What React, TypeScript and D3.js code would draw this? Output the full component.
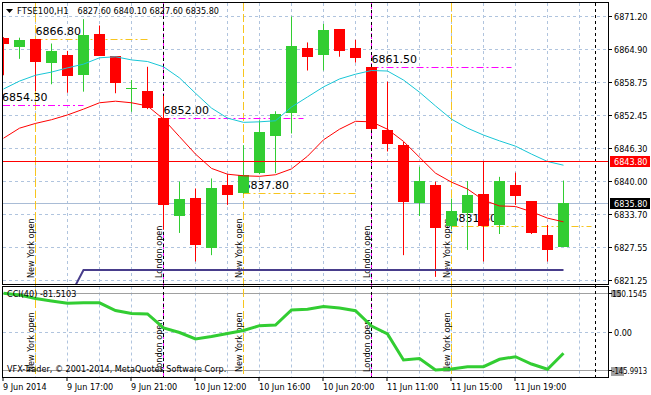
import React from "react";
import * as d3 from "d3";

const W = 651;
const H = 395;

// FTSE100 H1 bars, 9-11 Jun 2014
const opens = [6867.1, 6865.4, 6866.8, 6862.3, 6863.8, 6860.1, 6867.8, 6863.6, 6857.5, 6857.1, 6852.0, 6833.4, 6836.8, 6827.4, 6839.3, 6837.8, 6841.5, 6848.6, 6852.8, 6865.1, 6863.8, 6868.7, 6865.1, 6861.5, 6849.7, 6846.8, 6835.9, 6839.3, 6831.6, 6834.0, 6837.6, 6831.7, 6839.3, 6836.2, 6829.8, 6827.6];
const highs = [6867.2, 6867.1, 6866.8, 6866.0, 6864.6, 6870.6, 6869.4, 6863.6, 6859.1, 6861.6, 6856.1, 6839.9, 6838.6, 6840.5, 6841.3, 6846.8, 6851.5, 6853.2, 6871.1, 6866.2, 6869.7, 6868.7, 6866.7, 6861.6, 6858.8, 6847.4, 6842.7, 6839.9, 6836.7, 6840.0, 6843.7, 6840.8, 6841.6, 6836.2, 6831.7, 6840.1];
const lows = [6860.0, 6863.1, 6857.0, 6858.3, 6856.7, 6856.9, 6863.7, 6856.6, 6853.1, 6853.6, 6830.8, 6830.2, 6824.8, 6826.0, 6835.5, 6837.6, 6841.3, 6841.5, 6849.0, 6860.9, 6860.9, 6863.5, 6862.4, 6849.6, 6845.6, 6826.0, 6833.4, 6821.9, 6830.9, 6827.0, 6824.8, 6830.0, 6835.5, 6830.0, 6824.8, 6827.6];
const closes = [6865.9, 6866.7, 6862.6, 6864.6, 6859.9, 6867.6, 6863.7, 6858.5, 6857.6, 6853.9, 6835.5, 6836.6, 6827.9, 6838.7, 6837.4, 6841.2, 6849.3, 6852.7, 6865.5, 6863.5, 6868.6, 6864.6, 6863.2, 6849.9, 6847.0, 6836.1, 6840.0, 6831.1, 6834.4, 6837.4, 6831.5, 6840.0, 6837.2, 6830.2, 6827.0, 6835.8];

// moving averages
const maCyan = [6857.4, 6858.9, 6860.0, 6860.6, 6861.4, 6862.1, 6863.3, 6863.5, 6862.9, 6862.6, 6861.6, 6859.5, 6856.6, 6853.8, 6851.9, 6851.1, 6851.2, 6851.4, 6854.0, 6855.9, 6857.8, 6859.3, 6860.2, 6860.9, 6860.8, 6859.1, 6856.8, 6854.2, 6851.7, 6850.0, 6848.7, 6847.6, 6846.6, 6845.1, 6843.7, 6843.0];
const maRed = [6848.1, 6850.0, 6850.9, 6851.6, 6852.5, 6853.6, 6854.8, 6855.1, 6854.8, 6854.2, 6851.7, 6848.4, 6845.1, 6842.4, 6841.3, 6841.0, 6840.9, 6841.2, 6842.3, 6844.7, 6847.8, 6849.8, 6851.3, 6851.2, 6849.8, 6847.5, 6844.5, 6841.5, 6839.8, 6838.5, 6836.4, 6835.3, 6835.2, 6834.2, 6833.0, 6832.3];

// support line (bar index, price)
const supportIdx = [4, 5, 35];
const supportVal = [6817.4, 6823.2, 6823.2];

// CCI(40)
const cci = [150.15, 143.6, 130.1, 120.5, 111.6, 113.9, 113.5, 83.8, 72.2, 70.3, 16.2, -1.2, -26.3, -16.6, -5.0, 6.6, 25.1, 27.8, 85.7, 88.4, 99.2, 93.4, 83.0, 23.9, -6.9, -107.3, -101.5, -145.99, -142.1, -133.2, -133.0, -104.6, -94.6, -122.8, -143.2, -81.51];

const priceTicks = [6871.2, 6864.9, 6858.75, 6852.45, 6846.3, 6840.0, 6833.7, 6827.55, 6821.25];
const cciTicks = [150.1545, 0, -145.9913];
const cciTickLabels = ["150.1545", "0.00", "-145.9913"];

const timeIdx = [0, 4, 8, 12, 16, 20, 24, 28, 32];
const timeLabels = ["9 Jun 2014", "9 Jun 17:00", "9 Jun 21:00", "10 Jun 12:00", "10 Jun 16:00", "10 Jun 20:00", "11 Jun 11:00", "11 Jun 15:00", "11 Jun 19:00"];

const nyIdx = [2, 15, 28];
const londonIdx = [10, 23];
const separatorIdx = [10, 23, 37];

// session open levels
const levelValues = [6854.3, 6866.8, 6852.0, 6837.8, 6861.5, 6831.6];
const levelKind = ["london", "ny", "london", "ny", "london", "ny"];
const levelFrom = [-1, 2, 10, 15, 23, 28];
const levelTo = [5, 9, 18.75, 22, 31.75, 36.75];

const ask = 6843.8;
const bid = 6835.8;

const header = ["6827.60", "6840.10", "6827.60", "6835.80"];

const F = "'DejaVu Sans Condensed','Liberation Sans Narrow','DejaVu Sans',sans-serif";
const F2 = "'DejaVu Sans',sans-serif";
const GRID = "#b0c4de";
const GOLD = "#f7c51e";
const MAG = "#ff00ff";
const BULL = "#32cd32";
const BEAR = "#ff0000";

const LEFT = 2.5;
const RIGHT = 608.5;
const MAIN_TOP = 2.5;
const MAIN_BOT = 284.5;
const CCI_TOP = 286.5;
const CCI_BOT = 377.5;

export default function App() {
  const x = d3.scaleLinear().domain([0, 37]).range([3.5, 595.5]);
  const y = d3.scaleLinear().domain([6821.25, 6871.2]).range([280.3, 16]);
  const yc = d3.scaleLinear().domain([-145.9913, 150.1545]).range([370, 293.3]);
  const crisp = (v: number) => Math.round(v) + 0.5;

  const line = d3.line<number>().x((_, i) => x(i)).y((d) => y(d));
  const cciLine = d3.line<number>().x((_, i) => x(i)).y((d) => yc(d));
  const supLine = d3
    .line<number>()
    .x((_, i) => x(supportIdx[i]))
    .y((d) => y(d));

  const gridIdx = d3.range(2, 37, 2);

  return (
    <svg
      width={W}
      height={H}
      style={{ position: "fixed", left: 0, top: 0, background: "#fff" }}
      fontFamily={F}
    >
      <defs>
        <clipPath id="mainClip">
          <rect x={3} y={3} width={RIGHT - 3} height={MAIN_BOT - 3} />
        </clipPath>
        <clipPath id="cciClip">
          <rect x={3} y={CCI_TOP + 0.5} width={RIGHT - 3} height={CCI_BOT - CCI_TOP - 1} />
        </clipPath>
      </defs>
      <rect width={W} height={H} fill="#fff" />

      {/* grid main */}
      <g stroke={GRID} strokeDasharray="3 3" fill="none">
        {priceTicks.map((p) => (
          <line key={p} x1={3} x2={RIGHT} y1={crisp(y(p))} y2={crisp(y(p))} />
        ))}
        {gridIdx.map((i) => (
          <line key={"m" + i} x1={x(i)} x2={x(i)} y1={3} y2={MAIN_BOT} />
        ))}
        {gridIdx.map((i) => (
          <line key={"c" + i} x1={x(i)} x2={x(i)} y1={CCI_TOP} y2={CCI_BOT} />
        ))}
        <line x1={3} x2={RIGHT} y1={crisp(yc(0))} y2={crisp(yc(0))} />
      </g>
      {/* CCI max/min levels */}
      <g stroke="#a0a0a0">
        <line x1={3} x2={RIGHT} y1={crisp(yc(cciTicks[0]))} y2={crisp(yc(cciTicks[0]))} />
        <line x1={3} x2={RIGHT} y1={crisp(yc(cciTicks[2]))} y2={crisp(yc(cciTicks[2]))} />
      </g>

      {/* bid line */}
      <line x1={3} x2={RIGHT} y1={crisp(y(bid))} y2={crisp(y(bid))} stroke="#a9bcd6" />

      {/* session verticals */}
      {nyIdx.map((i) => (
        <line key={"ny" + i} x1={x(i)} x2={x(i)} y1={3} y2={CCI_BOT} stroke={GOLD} strokeDasharray="8 3" />
      ))}
      {londonIdx.map((i) => (
        <line key={"ld" + i} x1={x(i)} x2={x(i)} y1={3} y2={CCI_BOT} stroke={MAG} strokeDasharray="6 4" />
      ))}
      {separatorIdx.map((i) => (
        <line key={"sp" + i} x1={x(i)} x2={x(i)} y1={3} y2={CCI_BOT} stroke="#000" strokeDasharray="3 3" strokeDashoffset={i === 37 ? 0 : 5} />
      ))}

      {/* session levels */}
      <g clipPath="url(#mainClip)">
        {levelValues.map((v, k) => {
          const x1 = Math.max(x(levelFrom[k]), 3);
          const yy = crisp(y(v));
          return (
            <g key={"lv" + k}>
              <line
                x1={x1}
                x2={x(levelTo[k])}
                y1={yy}
                y2={yy}
                stroke={levelKind[k] === "ny" ? GOLD : MAG}
                strokeDasharray="7 3 2 3"
              />
              <text x={Math.max(x(levelFrom[k]), 2)} y={yy - 5} fontFamily={F2} fontSize={11} fill="#000">
                {v.toFixed(2)}
              </text>
            </g>
          );
        })}
      </g>

      {/* session labels */}
      {nyIdx.map((i) => (
        <g key={"nyt" + i} fontSize={9}>
          <text transform={`translate(${x(i) - 2},278) rotate(-90)`}>New York open</text>
          <text transform={`translate(${x(i) - 2},372) rotate(-90)`}>New York open</text>
        </g>
      ))}
      {londonIdx.map((i) => (
        <g key={"ldt" + i} fontSize={9}>
          <text transform={`translate(${x(i) - 2},278) rotate(-90)`}>London open</text>
          <text transform={`translate(${x(i) - 2},372) rotate(-90)`}>London open</text>
        </g>
      ))}

      {/* candles */}
      <g clipPath="url(#mainClip)">
        {opens.map((o, i) => {
          const c = closes[i];
          const bull = c >= o;
          const col = bull ? BULL : BEAR;
          const top = Math.round(y(Math.max(o, c)));
          const bot = Math.round(y(Math.min(o, c)));
          return (
            <g key={"cd" + i}>
              <line x1={x(i)} x2={x(i)} y1={y(highs[i])} y2={y(lows[i])} stroke={col} />
              <rect x={x(i) - 5.5} y={top} width={11} height={Math.max(1, bot - top)} fill={col} />
            </g>
          );
        })}
        <path d={line(maCyan) || ""} fill="none" stroke="#19c6d6" />
        <path d={line(maRed) || ""} fill="none" stroke="#ff0000" />
        <path d={supLine(supportVal) || ""} fill="none" stroke="#483d8b" strokeWidth={2} />
      </g>

      {/* ask line */}
      <line x1={3} x2={RIGHT} y1={crisp(y(ask))} y2={crisp(y(ask))} stroke="#ff0000" />

      {/* CCI */}
      <g clipPath="url(#cciClip)">
        <path d={cciLine(cci) || ""} fill="none" stroke={BULL} strokeWidth={3} />
      </g>
      <text x={7} y={297} fontSize={9}>CCI(40) -81.5103</text>
      <text x={7} y={372} fontSize={9}>VFX-Trader, © 2001-2014, MetaQuotes Software Corp.</text>

      {/* frames */}
      <g fill="none" stroke="#000">
        <rect x={LEFT} y={MAIN_TOP} width={RIGHT - LEFT} height={MAIN_BOT - MAIN_TOP} />
        <rect x={LEFT} y={CCI_TOP} width={RIGHT - LEFT} height={CCI_BOT - CCI_TOP} />
      </g>

      {/* header */}
      <path d="M6,9 L13,9 L9.5,13 Z" fill="#000" />
      <text x={17} y={14} fontSize={9.5}>FTSE100,H1</text>
      {header.map((h, k) => (
        <text key={"h" + k} x={77.5 + k * 36} y={14} fontSize={9}>
          {h}
        </text>
      ))}

      {/* price axis */}
      {priceTicks.map((p) => (
        <g key={"pt" + p}>
          <line x1={RIGHT} x2={612} y1={crisp(y(p))} y2={crisp(y(p))} stroke="#000" />
          <text x={614} y={crisp(y(p)) + 3} fontSize={9}>
            {p.toFixed(2)}
          </text>
        </g>
      ))}
      <rect x={610} y={crisp(y(ask)) - 5.5} width={40} height={11} fill="#ff0000" />
      <text x={614} y={crisp(y(ask)) + 3} fontSize={9} fill="#fff">
        {ask.toFixed(2)}
      </text>
      <rect x={610} y={crisp(y(bid)) - 5.5} width={40} height={11} fill="#000" />
      <text x={614} y={crisp(y(bid)) + 3} fontSize={9} fill="#fff">
        {bid.toFixed(2)}
      </text>

      {/* CCI axis */}
      <rect x={611} y={crisp(yc(cciTicks[0])) - 3.5} width={10} height={7} fill="#a0a0a0" />
      <rect x={611} y={crisp(yc(cciTicks[2])) - 3.5} width={13} height={9} fill="#a0a0a0" />
      {cciTicks.map((v, k) => (
        <g key={"ct" + k}>
          <line x1={RIGHT} x2={612} y1={crisp(yc(v))} y2={crisp(yc(v))} stroke="#000" />
          <text
            x={k === 1 ? 614 : 612}
            y={crisp(yc(v)) + 3}
            fontSize={k === 1 ? 9 : 8}
            textLength={k === 0 ? 35 : k === 2 ? 35 : undefined}
            lengthAdjust="spacingAndGlyphs"
          >
            {cciTickLabels[k]}
          </text>
        </g>
      ))}

      {/* time axis */}
      {timeIdx.map((i, k) => (
        <g key={"tt" + i}>
          <line x1={x(i) - 0.5} x2={x(i) - 0.5} y1={CCI_BOT} y2={381} stroke="#000" />
          <text x={x(i) - 0.5} y={390} fontSize={9}>
            {timeLabels[k]}
          </text>
        </g>
      ))}
    </svg>
  );
}
